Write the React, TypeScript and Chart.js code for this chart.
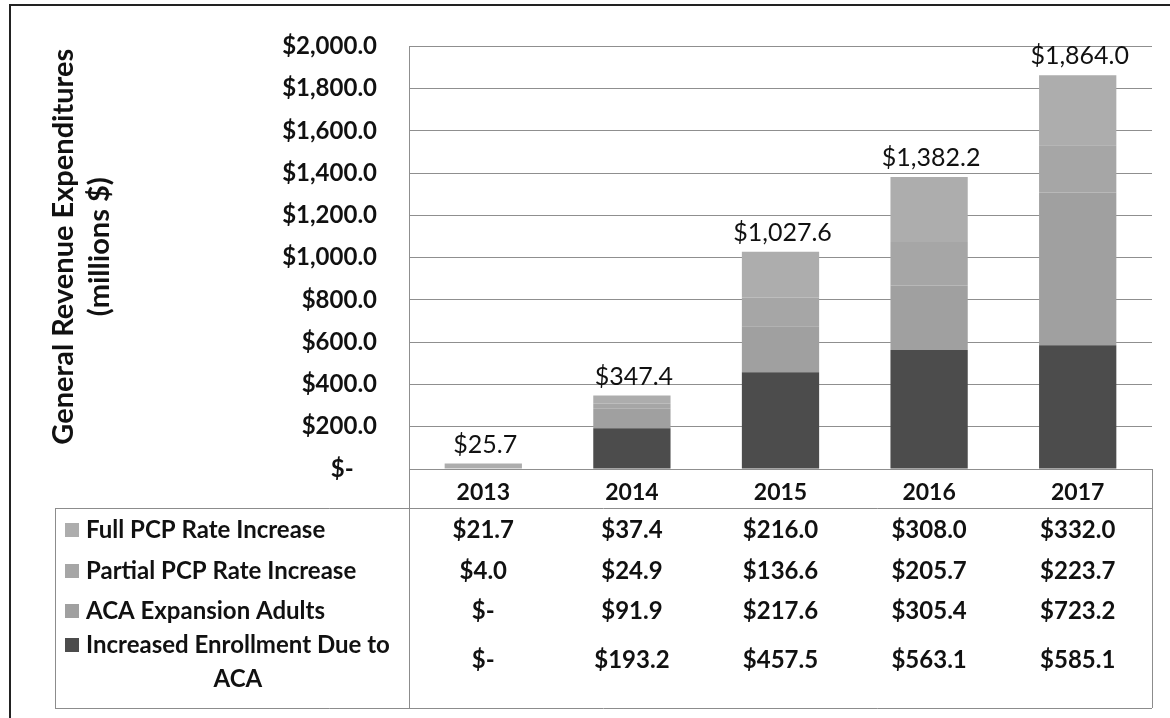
import React, { useEffect, useRef } from "react";
import { Chart, registerables } from "chart.js";

Chart.register(...registerables);

const years = ["2013", "2014", "2015", "2016", "2017"];
const fullPcp = [21.7, 37.4, 216.0, 308.0, 332.0];
const partialPcp = [4.0, 24.9, 136.6, 205.7, 223.7];
const acaExpansion = [0, 91.9, 217.6, 305.4, 723.2];
const enrollment = [0, 193.2, 457.5, 563.1, 585.1];
const totals = [25.7, 347.4, 1027.6, 1382.2, 1864.0];
const seriesNames = [
  "Full PCP Rate Increase",
  "Partial PCP Rate Increase",
  "ACA Expansion Adults",
  "Increased Enrollment Due to ACA",
];
const yTitleLines = ["General Revenue Expenditures", "(millions $)"];
const yTicksMax = 2000;
const yTicksStep = 200;

const COLORS = {
  full: "#adadad",
  partial: "#a6a6a6",
  aca: "#a0a0a0",
  enroll: "#4c4c4c",
};

const FONT = "Lato, 'Open Sans', sans-serif";

const money = (v: number) =>
  v === 0
    ? "$-"
    : "$" + v.toLocaleString("en-US", { minimumFractionDigits: 1, maximumFractionDigits: 1 });

const tablePlugin = {
  id: "dataTable",
  afterDraw(chart: any) {
    const ctx: CanvasRenderingContext2D = chart.ctx;
    const xs = chart.scales.x;
    const ys = chart.scales.y;
    const area = chart.chartArea;
    const L = area.left;
    const R = area.right;
    const B = area.bottom;
    const tableLeft = 55;
    const headerBottom = 508;
    const tableBottom = 708;

    ctx.save();

    // outer frame
    ctx.strokeStyle = "#222";
    ctx.lineWidth = 2;
    ctx.beginPath();
    ctx.moveTo(10, 718);
    ctx.lineTo(10, 5);
    ctx.lineTo(1170, 5);
    ctx.stroke();

    // table lines
    ctx.strokeStyle = "#8c8c8c";
    ctx.lineWidth = 1;
    ctx.beginPath();
    ctx.moveTo(L + 0.5, B);
    ctx.lineTo(L + 0.5, tableBottom);
    ctx.moveTo(R + 0.5, B);
    ctx.lineTo(R + 0.5, tableBottom);
    ctx.moveTo(tableLeft, headerBottom + 0.5);
    ctx.lineTo(R, headerBottom + 0.5);
    ctx.moveTo(tableLeft, tableBottom + 0.5);
    ctx.lineTo(R, tableBottom + 0.5);
    ctx.moveTo(tableLeft + 0.5, headerBottom);
    ctx.lineTo(tableLeft + 0.5, tableBottom);
    ctx.stroke();

    // totals above bars
    ctx.fillStyle = "#111";
    ctx.font = `25px ${FONT}`;
    ctx.textAlign = "center";
    ctx.textBaseline = "alphabetic";
    totals.forEach((t, i) => {
      ctx.fillText(money(t), xs.getPixelForValue(i) + 2, ys.getPixelForValue(t) - 11);
    });

    // y axis title
    ctx.save();
    ctx.font = `bold 29px ${FONT}`;
    ctx.textAlign = "center";
    ctx.textBaseline = "middle";
    ctx.translate(64, (area.top + B) / 2 - 11);
    ctx.rotate(-Math.PI / 2);
    yTitleLines.forEach((line, i) => ctx.fillText(line, 0, i * 36));
    ctx.restore();

    // table rows
    const rows = [
      { name: seriesNames[0], values: fullPcp, color: COLORS.full, y: 530 },
      { name: seriesNames[1], values: partialPcp, color: COLORS.partial, y: 571 },
      { name: seriesNames[2], values: acaExpansion, color: COLORS.aca, y: 611 },
      { name: seriesNames[3], values: enrollment, color: COLORS.enroll, y: 660 },
    ];
    ctx.font = `bold 24px ${FONT}`;
    ctx.textBaseline = "middle";
    rows.forEach((row, ri) => {
      const textX = 86;
      if (ri === 3) {
        const line1 = "Increased Enrollment Due to";
        const line2 = "ACA";
        const y1 = 645;
        const y2 = 679;
        ctx.fillStyle = row.color;
        ctx.fillRect(65, y1 - 7, 14, 14);
        ctx.fillStyle = "#111";
        ctx.textAlign = "left";
        ctx.fillText(line1, textX, y1);
        const w = ctx.measureText(line1).width;
        ctx.textAlign = "center";
        ctx.fillText(line2, textX + w / 2, y2);
      } else {
        ctx.fillStyle = row.color;
        ctx.fillRect(65, row.y - 7, 14, 14);
        ctx.fillStyle = "#111";
        ctx.textAlign = "left";
        ctx.fillText(row.name, textX, row.y);
      }
      ctx.textAlign = "center";
      row.values.forEach((v, i) => {
        ctx.fillText(money(v), xs.getPixelForValue(i), row.y);
      });
    });

    ctx.restore();
  },
};

export default function App() {
  const canvasRef = useRef<HTMLCanvasElement | null>(null);

  useEffect(() => {
    document.body.style.margin = "0";
    const canvas = canvasRef.current;
    if (!canvas) return;
    const chart = new Chart(canvas, {
      type: "bar",
      data: {
        labels: years,
        datasets: [
          { label: seriesNames[3], data: enrollment, backgroundColor: COLORS.enroll },
          { label: seriesNames[2], data: acaExpansion, backgroundColor: COLORS.aca },
          { label: seriesNames[1], data: partialPcp, backgroundColor: COLORS.partial },
          { label: seriesNames[0], data: fullPcp, backgroundColor: COLORS.full },
        ],
      },
      options: {
        responsive: false,
        animation: false,
        layout: { padding: { top: 35, right: 18, bottom: 0, left: 0 } },
        datasets: { bar: { barPercentage: 0.52, categoryPercentage: 1 } },
        plugins: {
          legend: { display: false },
          tooltip: { enabled: false },
          title: { display: false },
        },
        scales: {
          x: {
            stacked: true,
            grid: { display: false },
            border: { display: false },
            ticks: {
              color: "#111",
              font: { family: FONT, size: 23, weight: "bold" },
              padding: 2,
              maxRotation: 0,
            },
            afterFit(scale: any) {
              scale.height = 249;
            },
          },
          y: {
            stacked: true,
            min: 0,
            max: yTicksMax,
            grid: { color: "#8f8f8f", lineWidth: 1, drawTicks: false },
            border: { display: true, color: "#8f8f8f" },
            ticks: {
              stepSize: yTicksStep,
              color: "#111",
              padding: 32,
              font: { family: FONT, size: 24, weight: "bold" },
              callback: (v: any) => (Number(v) === 0 ? "$-    " : money(Number(v))),
            },
            afterFit(scale: any) {
              scale.width = 409;
            },
          },
        },
      },
      plugins: [tablePlugin],
    });
    return () => chart.destroy();
  }, []);

  return (
    <div style={{ position: "fixed", left: 0, top: 0, width: 1170, height: 718, background: "#fff" }}>
      <canvas ref={canvasRef} width={1170} height={718} />
    </div>
  );
}
